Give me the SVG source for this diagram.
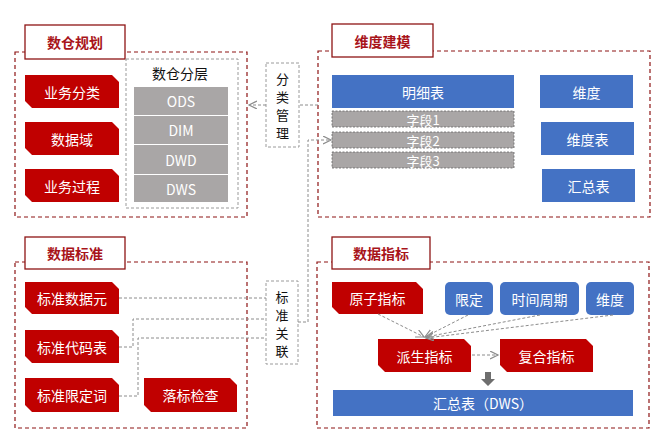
<svg xmlns="http://www.w3.org/2000/svg" width="662" height="445" viewBox="0 0 662 445">
<defs>
<style>
text{font-family:"Noto Sans CJK SC","Microsoft YaHei","Liberation Sans",sans-serif;text-anchor:middle;dominant-baseline:central}
.panel{fill:none;stroke:#8E1515;stroke-width:1.2;stroke-dasharray:4 3}
.title rect{fill:#fff;stroke:#8E1515;stroke-width:1.3}
.title text{fill:#A8141A;font-size:14px;font-weight:bold}
.red path{fill:#C00000}
.wt{fill:#fff;font-size:14px}
.blue rect{fill:#4472C4}
.gray rect{fill:#A9A6A6}
.field rect{fill:#A9A6A6;stroke:#666;stroke-width:0.8;stroke-dasharray:2 1.5}
.gbox{fill:#fff;stroke:#9A9A9A;stroke-width:1;stroke-dasharray:3 2}
.bt{fill:#111;font-size:14px}
.vt{fill:#111;font-size:13px}
.conn{fill:none;stroke:#8C8C8C;stroke-width:1;stroke-dasharray:3 2}
</style>
<marker id="arr" markerWidth="10" markerHeight="10" refX="8" refY="4" orient="auto" markerUnits="userSpaceOnUse">
<path d="M0,0 L8,4 L0,8" fill="none" stroke="#8C8C8C" stroke-width="1.2"/>
</marker>
</defs>
<rect width="662" height="445" fill="#fff"/>

<!-- Panels -->
<g id="panel-plan">
<rect class="panel" x="15" y="52" width="232" height="165"/>
<g class="title"><rect x="25" y="25" width="100" height="34"/><text x="75" y="42">数仓规划</text></g>
</g>
<g id="panel-model">
<rect class="panel" x="318" y="51" width="332" height="166"/>
<g class="title"><rect x="332" y="24" width="101" height="33"/><text x="382.5" y="40.5">维度建模</text></g>
</g>
<g id="panel-std">
<rect class="panel" x="15" y="262" width="232" height="166"/>
<g class="title"><rect x="25" y="237" width="100" height="32"/><text x="75" y="253">数据标准</text></g>
</g>
<g id="panel-metric">
<rect class="panel" x="317" y="262" width="332" height="166"/>
<g class="title"><rect x="332" y="237" width="98" height="32"/><text x="381" y="253">数据指标</text></g>
</g>

<!-- 数仓规划 nodes -->
<g id="n-ywfl" class="red"><path d="M25,75 H112 L119,82 V108 H32 L25,101 Z"/><text class="wt" x="72" y="91.5">业务分类</text></g>
<g id="n-sjy" class="red"><path d="M25,122 H112 L119,129 V155 H32 L25,148 Z"/><text class="wt" x="72" y="138.5">数据域</text></g>
<g id="n-ywgc" class="red"><path d="M25,169 H112 L119,176 V202 H32 L25,195 Z"/><text class="wt" x="72" y="185.5">业务过程</text></g>
<g id="n-layer">
<rect class="gbox" x="126" y="59" width="112" height="149"/>
<text class="bt" x="180" y="73">数仓分层</text>
</g>
<g id="n-ods" class="gray"><rect x="134" y="87" width="94" height="28"/><text class="wt" x="181" y="101">ODS</text></g>
<g id="n-dim" class="gray"><rect x="134" y="116" width="94" height="28"/><text class="wt" x="181" y="130">DIM</text></g>
<g id="n-dwd" class="gray"><rect x="134" y="145" width="94" height="29"/><text class="wt" x="181" y="159.5">DWD</text></g>
<g id="n-dws" class="gray"><rect x="134" y="175" width="94" height="27"/><text class="wt" x="181" y="188.5">DWS</text></g>

<!-- middle labels -->
<g id="n-flgl">
<rect class="gbox" x="266" y="63" width="33" height="84"/>
<text class="vt" x="282.5" y="78">分</text>
<text class="vt" x="282.5" y="96">类</text>
<text class="vt" x="282.5" y="114">管</text>
<text class="vt" x="282.5" y="132">理</text>
</g>
<g id="n-bzgl">
<rect class="gbox" x="266" y="281" width="32" height="83"/>
<text class="vt" x="282" y="296">标</text>
<text class="vt" x="282" y="314">准</text>
<text class="vt" x="282" y="332">关</text>
<text class="vt" x="282" y="350">联</text>
</g>

<!-- 维度建模 nodes -->
<g id="n-mxb" class="blue"><rect x="332" y="75" width="182" height="33"/><text class="wt" x="423" y="91.5">明细表</text></g>
<g id="n-zd1" class="field"><rect x="332" y="111" width="182" height="16"/><text class="wt" x="423" y="119" style="font-size:13px">字段1</text></g>
<g id="n-zd2" class="field"><rect x="332" y="132" width="182" height="16"/><text class="wt" x="423" y="140" style="font-size:13px">字段2</text></g>
<g id="n-zd3" class="field"><rect x="332" y="152" width="182" height="16"/><text class="wt" x="423" y="160" style="font-size:13px">字段3</text></g>
<g id="n-wd" class="blue"><rect x="540" y="75" width="93" height="33"/><text class="wt" x="586.5" y="91.5">维度</text></g>
<g id="n-wdb" class="blue"><rect x="541" y="122" width="93" height="33"/><text class="wt" x="587.5" y="138.5">维度表</text></g>
<g id="n-hzb" class="blue"><rect x="542" y="169" width="93" height="33"/><text class="wt" x="588.5" y="185.5">汇总表</text></g>

<!-- 数据标准 nodes -->
<g id="n-bzsjy" class="red"><path d="M25,282 H112 L119,289 V314 H32 L25,307 Z"/><text class="wt" x="72" y="298">标准数据元</text></g>
<g id="n-bzdmb" class="red"><path d="M25,330 H112 L119,337 V363 H32 L25,356 Z"/><text class="wt" x="72" y="346.5">标准代码表</text></g>
<g id="n-bzxdc" class="red"><path d="M25,378 H112 L119,385 V412 H32 L25,405 Z"/><text class="wt" x="72" y="395">标准限定词</text></g>
<g id="n-lbjc" class="red"><path d="M144,378 H230 L237,385 V412 H151 L144,405 Z"/><text class="wt" x="190.5" y="395">落标检查</text></g>

<!-- 数据指标 nodes -->
<g id="n-yzzb" class="red"><path d="M332,282 H416 L423,289 V314 H339 L332,307 Z"/><text class="wt" x="377.5" y="298">原子指标</text></g>
<g id="n-xd" class="blue"><rect x="445" y="282" width="48" height="33" rx="5"/><text class="wt" x="469" y="298.5">限定</text></g>
<g id="n-sjzq" class="blue"><rect x="500" y="282" width="79" height="33" rx="5"/><text class="wt" x="539.5" y="298.5">时间周期</text></g>
<g id="n-wd2" class="blue"><rect x="586" y="282" width="48" height="33" rx="5"/><text class="wt" x="610" y="298.5">维度</text></g>
<g id="n-pszb" class="red"><path d="M378,339 H464 L471,346 V372 H385 L378,365 Z"/><text class="wt" x="424.5" y="355.5">派生指标</text></g>
<g id="n-fhzb" class="red"><path d="M500,339 H586 L593,346 V372 H507 L500,365 Z"/><text class="wt" x="546.5" y="355.5">复合指标</text></g>
<g id="n-hzbdws" class="blue"><rect x="333" y="390" width="300" height="26"/><text class="wt" x="483" y="403">汇总表（DWS）</text></g>

<!-- connectors -->
<g id="connectors">
<path class="conn" d="M318,105 H299"/>
<path class="conn" d="M266,105 H249" marker-end="url(#arr)"/>
<path class="conn" d="M298,322 H308 V140 H331" marker-end="url(#arr)"/>
<path class="conn" d="M119,298 H266"/>
<path class="conn" d="M119,347 H133 V319 H266"/>
<path class="conn" d="M119,396 H138 V338 H266"/>
<path class="conn" d="M378,314 L424,337" marker-end="url(#arr)"/>
<path class="conn" d="M468,315 L425,337" marker-end="url(#arr)"/>
<path class="conn" d="M540,315 L426,337" marker-end="url(#arr)"/>
<path class="conn" d="M613,315 L426,338" marker-end="url(#arr)"/>
<path class="conn" d="M472,355 H498" marker-end="url(#arr)"/>
<path d="M485,372 H491 V379 H495 L488,386 L481,379 H485 Z" fill="#6E6E6E"/>
</g>
</svg>
